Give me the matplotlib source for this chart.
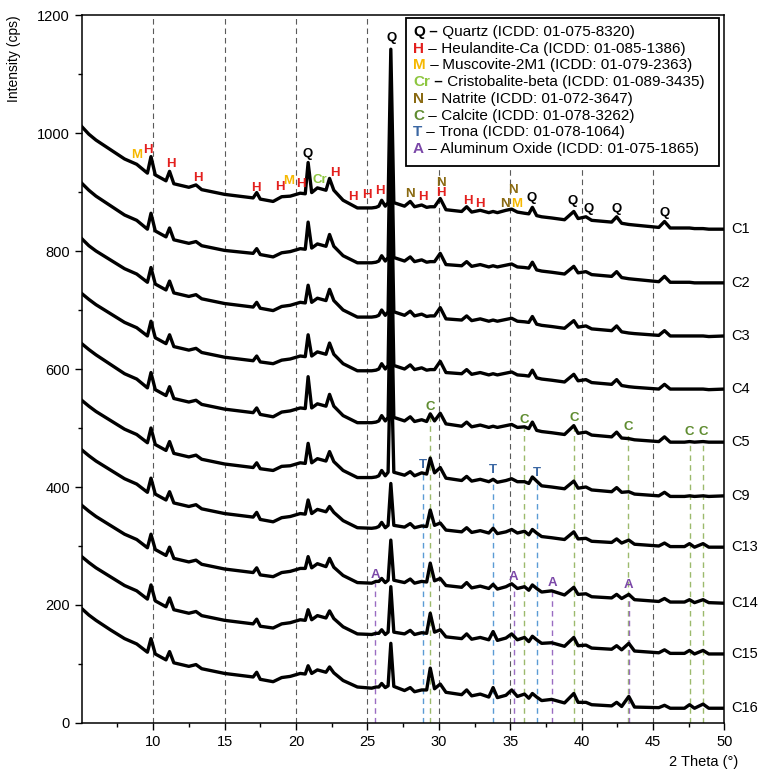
"""
Difratogramas DRX empilhados (C1 ... C16) com fases identificadas
"""

import matplotlib.pyplot as plt
import numpy as np
from matplotlib.patches import Rectangle

plt.rcParams['font.family'] = ['Liberation Sans', 'DejaVu Sans']

# posicoes 2theta (graus) onde as intensidades foram lidas
two_theta = [5.0, 5.5, 6.0, 7.0, 8.0, 8.85, 9.6, 9.85, 10.15, 10.9,
             11.15, 11.45, 12.5, 13.0, 13.4, 15.0, 17.0, 17.25, 17.5, 18.4,
             19.0, 19.6, 20.3, 20.65, 20.85, 21.1, 21.5, 22.1, 22.35, 22.65,
             23.3, 24.3, 25.3, 25.6, 25.8, 26.0, 26.25, 26.45, 26.64, 26.85,
             27.6, 28.0, 28.3, 28.8, 29.15, 29.4, 29.7, 30.1, 30.5, 31.6,
             31.95, 32.3, 32.9, 33.5, 33.8, 34.1, 34.7, 35.1, 35.5, 36.0,
             36.3, 36.55, 36.85, 37.2, 37.9, 38.8, 39.45, 39.75, 40.3, 40.7,
             42.1, 42.45, 42.8, 43.3, 43.7, 45.4, 45.8, 46.2, 47.2, 47.55,
             47.9, 48.5, 48.9, 50.0]

# intensidades (cps), ja empilhadas
I_C1 = [1011, 998, 988, 972, 956, 947, 932, 960, 929, 919,
        935, 914, 908, 912, 904, 896, 890, 899, 888, 884,
        892, 893, 898, 897, 950, 899, 907, 903, 923, 903,
        886, 873, 873, 874, 876, 886, 876, 882, 1142, 882,
        876, 884, 875, 878, 874, 875, 875, 889, 870, 867,
        875, 866, 869, 865, 867, 865, 869, 871, 866, 864,
        863, 874, 860, 858, 856, 853, 867, 855, 858, 852,
        849, 858, 847, 845, 844, 840, 850, 839, 839, 839,
        838, 838, 837, 837]
I_C2 = [915, 903, 893, 877, 861, 852, 837, 864, 834, 824,
        839, 819, 813, 816, 809, 801, 796, 804, 794, 790,
        797, 799, 804, 803, 849, 805, 812, 808, 828, 808,
        792, 780, 780, 781, 783, 792, 783, 789, 1050, 789,
        783, 790, 782, 785, 781, 782, 782, 796, 777, 775,
        782, 774, 777, 773, 775, 773, 776, 778, 773, 772,
        771, 781, 768, 766, 764, 761, 774, 763, 765, 760,
        757, 765, 755, 753, 752, 748, 757, 747, 747, 747,
        746, 746, 746, 746]
I_C3 = [821, 809, 800, 785, 770, 761, 747, 772, 744, 734,
        749, 729, 723, 726, 719, 711, 705, 713, 703, 699,
        706, 708, 713, 712, 742, 713, 720, 716, 735, 716,
        700, 688, 688, 689, 691, 700, 691, 697, 960, 697,
        691, 698, 690, 693, 689, 690, 690, 704, 685, 683,
        690, 682, 685, 681, 683, 681, 684, 686, 681, 680,
        679, 689, 676, 674, 672, 669, 682, 671, 673, 668,
        665, 673, 663, 661, 660, 657, 665, 656, 656, 656,
        656, 656, 655, 656]
I_C4 = [728, 718, 709, 694, 679, 670, 656, 681, 653, 643,
        658, 638, 632, 635, 628, 620, 614, 622, 612, 609,
        615, 617, 622, 621, 658, 622, 629, 625, 644, 625,
        609, 597, 597, 598, 600, 609, 600, 606, 870, 606,
        600, 607, 599, 602, 598, 599, 599, 613, 594, 592,
        599, 591, 594, 590, 592, 590, 593, 595, 590, 589,
        588, 598, 585, 583, 581, 578, 591, 580, 582, 577,
        574, 582, 572, 570, 569, 566, 574, 566, 566, 566,
        566, 566, 565, 566]
I_C5 = [643, 633, 624, 608, 592, 583, 568, 594, 565, 555,
        570, 550, 544, 547, 540, 532, 526, 534, 523, 519,
        527, 529, 534, 533, 587, 534, 541, 537, 557, 537,
        521, 509, 509, 510, 512, 521, 512, 518, 780, 518,
        512, 519, 511, 514, 511, 524, 512, 525, 507, 503,
        510, 502, 505, 501, 503, 501, 504, 506, 501, 502,
        499, 510, 496, 494, 492, 489, 504, 491, 493, 488,
        485, 493, 483, 482, 480, 477, 485, 476, 476, 477,
        476, 477, 476, 476]
I_C9 = [547, 537, 528, 513, 498, 489, 475, 500, 472, 462,
        477, 457, 451, 454, 447, 439, 433, 441, 431, 428,
        435, 436, 441, 440, 474, 441, 448, 444, 460, 443,
        428, 416, 416, 417, 419, 428, 419, 425, 640, 425,
        420, 426, 419, 424, 422, 449, 424, 433, 415, 411,
        418, 410, 413, 409, 413, 408, 411, 414, 409, 409,
        406, 417, 410, 402, 400, 397, 410, 398, 400, 395,
        392, 399, 391, 392, 388, 385, 391, 384, 384, 385,
        384, 385, 384, 385]
I_C13 = [463, 453, 444, 429, 414, 405, 391, 415, 388, 378,
         392, 373, 367, 370, 363, 355, 349, 357, 345, 341,
         348, 350, 355, 354, 378, 355, 362, 358, 367, 357,
         343, 331, 330, 331, 333, 340, 331, 335, 406, 335,
         332, 338, 331, 334, 333, 361, 335, 339, 327, 324,
         331, 323, 326, 322, 330, 321, 324, 328, 322, 325,
         319, 328, 322, 316, 314, 311, 324, 312, 313, 308,
         306, 312, 305, 310, 303, 300, 305, 299, 299, 304,
         298, 304, 298, 298]
I_C14 = [369, 359, 350, 335, 320, 311, 297, 320, 294, 284,
         298, 279, 273, 276, 269, 261, 255, 263, 251, 248,
         255, 257, 262, 262, 282, 263, 270, 265, 279, 264,
         250, 238, 237, 240, 240, 245, 238, 242, 310, 242,
         238, 244, 237, 240, 239, 271, 241, 245, 233, 230,
         238, 229, 232, 228, 235, 227, 231, 236, 228, 231,
         225, 234, 228, 222, 224, 217, 230, 218, 219, 214,
         212, 218, 211, 218, 209, 206, 211, 205, 205, 209,
         204, 209, 204, 203]
I_C15 = [282, 272, 263, 248, 233, 224, 210, 234, 207, 197,
         212, 192, 186, 189, 182, 174, 168, 176, 164, 161,
         168, 170, 175, 174, 192, 175, 182, 178, 190, 177,
         163, 151, 150, 152, 152, 158, 150, 154, 231, 154,
         151, 157, 150, 153, 152, 186, 154, 158, 146, 143,
         151, 142, 145, 141, 155, 140, 144, 151, 141, 145,
         138, 147, 141, 135, 136, 130, 145, 131, 132, 127,
         125, 131, 124, 135, 122, 119, 124, 118, 118, 123,
         117, 123, 117, 117]
I_C16 = [194, 183, 174, 158, 143, 134, 120, 143, 117, 107,
         121, 102, 96, 99, 92, 84, 78, 86, 74, 70,
         77, 79, 84, 83, 97, 84, 90, 86, 95, 85,
         72, 61, 59, 61, 61, 67, 60, 63, 135, 62,
         55, 60, 53, 56, 56, 93, 58, 66, 52, 48,
         56, 46, 49, 44, 60, 43, 47, 56, 45, 49,
         42, 50, 44, 38, 40, 34, 50, 35, 35, 31,
         29, 35, 28, 45, 27, 26, 30, 25, 25, 31,
         25, 32, 25, 25]

amostras = ['C1', 'C2', 'C3', 'C4', 'C5', 'C9', 'C13', 'C14', 'C15', 'C16']
intensidades = [I_C1, I_C2, I_C3, I_C4, I_C5, I_C9, I_C13, I_C14, I_C15, I_C16]

# picos marcados sobre C1
pico_sym = ['M', 'H', 'H', 'H', 'H', 'H', 'M', 'H', 'Q', 'Cr', 'H', 'H', 'H', 'H',
            'Q', 'N', 'H', 'N', 'H', 'H', 'H', 'N', 'N', 'M', 'Q', 'Q', 'Q', 'Q', 'Q']
pico_x = [8.82, 9.6, 11.27, 13.13, 17.16, 18.84, 19.49, 20.36, 20.82, 21.66, 22.69,
          23.97, 24.93, 25.9, 26.72, 27.99, 28.88, 30.16, 30.11, 32.0, 32.9, 34.6,
          35.2, 35.43, 36.53, 39.4, 40.5, 42.48, 45.8]
pico_y = [963, 971, 947, 923, 906, 909, 919, 914, 964, 920, 933,
          891, 895, 902, 1161, 897, 891, 916, 898, 885, 879, 879,
          904, 879, 889, 885, 872, 872, 865]

# calcita, trona e oxido de aluminio (linhas tracejadas)
calcita_x = [29.4, 35.95, 39.45, 43.25, 47.55, 48.5]
calcita_y = [536, 514, 517, 502, 493, 493]
trona_x = [28.86, 33.8, 36.85]
trona_y = [437, 429, 423]
alumina_x = [25.55, 35.25, 37.95, 43.3]
alumina_y = [251, 248, 237, 234]

legenda_sym = ['Q', 'H', 'M', 'Cr', 'N', 'C', 'T', 'A']
legenda_txt = ['Quartz (ICDD: 01-075-8320)',
               'Heulandite-Ca (ICDD: 01-085-1386)',
               'Muscovite-2M1 (ICDD: 01-079-2363)',
               'Cristobalite-beta (ICDD: 01-089-3435)',
               'Natrite (ICDD: 01-072-3647)',
               'Calcite (ICDD: 01-078-3262)',
               'Trona (ICDD: 01-078-1064)',
               'Aluminum Oxide (ICDD: 01-075-1865)']
traco_negrito = [True, False, False, True, False, False, False, False]

cores = {'Q': 'black', 'H': '#e3201e', 'M': '#f6b800', 'Cr': '#8dc63f',
         'N': '#8a6a12', 'C': '#5f8c30', 'T': '#3b67a3', 'A': '#7b48a8'}

fig = plt.figure(figsize=(7.58, 7.74), dpi=100)
ax = fig.add_axes([0.1078, 0.0659, 0.848, 0.9147])

for xg in [10, 15, 20, 25, 30, 35, 40, 45]:
    ax.axvline(xg, color='#5a5a5a', lw=0.8, ls=(0, (5, 3.5)), zorder=1)

# linhas das fases minoritarias
grupos = [(calcita_x, calcita_y, 'C', '#9cba6c'),
          (trona_x, trona_y, 'T', '#5b9bd5'),
          (alumina_x, alumina_y, 'A', '#9a6cc2')]
for gx, gy, s, cl in grupos:
    for xx, yy in zip(gx, gy):
        ax.plot([xx, xx], [0, yy - 14], color=cl, lw=1.0, ls=(0, (4, 3)), zorder=1.5)
        ax.text(xx, yy, s, color=cores[s], fontsize=9.5, fontweight='bold',
                ha='center', va='center', zorder=4)

for nome, I in zip(amostras, intensidades):
    ax.plot(two_theta, I, color='black', lw=2.4, solid_joinstyle='round', zorder=3)
    ax.text(50.46, I[-1], nome, fontsize=10.5, ha='left', va='center', clip_on=False)

for s, xx, yy in zip(pico_sym, pico_x, pico_y):
    ax.text(xx, yy, s, color=cores[s], fontsize=9.5, fontweight='bold',
            ha='center', va='center', zorder=4)

ax.set_xlim(5, 50)
ax.set_ylim(0, 1200)
ax.set_xticks(np.arange(10, 51, 5))
ax.set_xticks(np.arange(7.5, 50, 5), minor=True)
ax.set_yticks(np.arange(0, 1201, 200))
ax.set_yticks(np.arange(100, 1200, 200), minor=True)
ax.tick_params(which='both', direction='out', labelsize=10.5, width=1.0)
ax.tick_params(which='major', length=5)
ax.tick_params(which='minor', length=3)
for sp in ax.spines.values():
    sp.set_linewidth(1.1)

ax.set_ylabel('Intensity (cps)', fontsize=10, loc='top')
ax.yaxis.set_label_coords(-0.095, 1.0)
fig.text(738 / 758, 1 - 762 / 774, '2 Theta (°)', fontsize=10.5, ha='right', va='center')

# caixa de legenda
ax.add_patch(Rectangle((0.5045, 0.7867), 0.487, 0.209, transform=ax.transAxes,
                       facecolor='white', edgecolor='black', lw=1.3, zorder=5))
for k, (s, t) in enumerate(zip(legenda_sym, legenda_txt)):
    yl = (723 - (36.0 + 16.7 * k)) / 708
    ts = ax.text(0.5154, yl, s, color=cores[s], fontsize=11, fontweight='bold',
                 transform=ax.transAxes, ha='left', va='baseline', zorder=6)
    td = ax.annotate(' –', xy=(1, yl), xycoords=(ts, 'axes fraction'), fontsize=11,
                     fontweight='bold' if traco_negrito[k] else 'normal',
                     ha='left', va='baseline', zorder=6)
    ax.annotate(' ' + t, xy=(1, yl), xycoords=(td, 'axes fraction'), fontsize=11,
                ha='left', va='baseline', zorder=6)

fig.savefig('out.png', dpi=100)
